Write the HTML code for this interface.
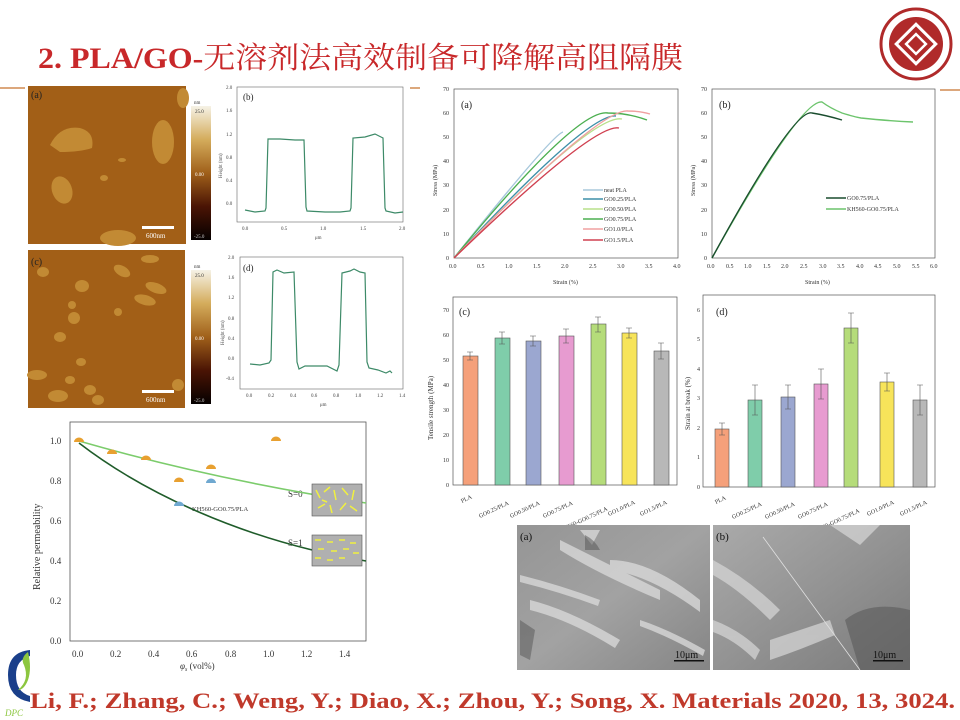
<!DOCTYPE html>
<html><head><meta charset="utf-8"><style>
html,body{margin:0;padding:0;background:#fff;}
svg{display:block;}
text{font-family:"Liberation Serif","Noto Serif CJK SC",serif;}
</style></head><body>
<svg width="960" height="720" viewBox="0 0 960 720" xmlns="http://www.w3.org/2000/svg">
<defs>
<linearGradient id="cb" x1="0" y1="0" x2="0" y2="1">
<stop offset="0" stop-color="#f6f2e6"/><stop offset="0.25" stop-color="#d4ac5c"/><stop offset="0.5" stop-color="#a0601a"/><stop offset="0.75" stop-color="#4a1404"/><stop offset="1" stop-color="#050000"/>
</linearGradient>
<linearGradient id="sem1" x1="0" y1="0" x2="1" y2="1">
<stop offset="0" stop-color="#959595"/><stop offset="0.5" stop-color="#a2a2a2"/><stop offset="1" stop-color="#858585"/>
</linearGradient>
<linearGradient id="sem2" x1="0" y1="0" x2="1" y2="1">
<stop offset="0" stop-color="#aaaaaa"/><stop offset="0.5" stop-color="#939393"/><stop offset="1" stop-color="#7a7a7a"/>
</linearGradient>
</defs>

<!-- header -->
<text x="38" y="68" font-size="30" fill="#c8282a" textLength="645" lengthAdjust="spacingAndGlyphs"><tspan font-weight="bold">2. PLA/GO-</tspan>无溶剂法高效制备可降解高阻隔膜</text>
<line x1="0" y1="88" x2="25" y2="88" stroke="#d08a50" stroke-width="1.5"/>
<line x1="410" y1="88" x2="420" y2="88" stroke="#d08a50" stroke-width="1.5"/>
<line x1="940" y1="90" x2="960" y2="90" stroke="#d08a50" stroke-width="1.5"/>
<!-- logo -->
<circle cx="916" cy="44" r="35" fill="#fff" stroke="#b02a2a" stroke-width="3"/>
<circle cx="916" cy="44" r="27" fill="#b02a2a"/>
<rect x="902" y="30" width="28" height="28" transform="rotate(45 916 44)" fill="none" stroke="#fff" stroke-width="3"/>
<rect x="909" y="37" width="14" height="14" transform="rotate(45 916 44)" fill="none" stroke="#fff" stroke-width="2.5"/>

<!-- AFM a -->
<rect x="28" y="86" width="158" height="158" fill="#a25f17"/>
<g fill="#c28a34">
<path d="M50,145 Q60,125 80,128 Q95,132 92,148 Q80,152 60,152 Z"/>
<ellipse cx="163" cy="142" rx="11" ry="22"/>
<ellipse cx="62" cy="190" rx="10" ry="14" transform="rotate(-20 62 190)"/>
<ellipse cx="104" cy="178" rx="4" ry="3"/>
<ellipse cx="122" cy="160" rx="4" ry="2"/>
<ellipse cx="118" cy="238" rx="18" ry="8"/>
<ellipse cx="183" cy="98" rx="6" ry="10"/>
</g>
<rect x="142" y="226" width="32" height="3" fill="#fff"/>
<text x="146" y="238" font-size="7" fill="#fff" font-family="Liberation Sans">600nm</text>
<text x="31" y="98" font-size="10" fill="#222">(a)</text>
<rect x="191" y="106" width="20" height="134" fill="url(#cb)"/>
<text x="194" y="104" font-size="5" fill="#333" font-family="Liberation Sans">nm</text>
<text x="195" y="113" font-size="5" fill="#333" font-family="Liberation Sans">25.0</text>
<text x="195" y="176" font-size="5" fill="#fff" font-family="Liberation Sans">0.00</text>
<text x="194" y="238" font-size="5" fill="#ccc" font-family="Liberation Sans">-25.0</text>

<!-- AFM c -->
<rect x="28" y="250" width="157" height="158" fill="#a25f17"/>
<g fill="#c28a34">
<ellipse cx="43" cy="272" rx="6" ry="5"/><ellipse cx="82" cy="286" rx="7" ry="6"/><ellipse cx="122" cy="271" rx="9" ry="5" transform="rotate(30 122 271)"/>
<ellipse cx="150" cy="259" rx="9" ry="4"/><ellipse cx="156" cy="288" rx="11" ry="5" transform="rotate(20 156 288)"/><ellipse cx="145" cy="300" rx="11" ry="5" transform="rotate(15 145 300)"/>
<ellipse cx="72" cy="305" rx="4" ry="4"/><ellipse cx="74" cy="318" rx="6" ry="6"/><ellipse cx="118" cy="312" rx="4" ry="4"/>
<ellipse cx="60" cy="337" rx="6" ry="5"/><ellipse cx="81" cy="362" rx="5" ry="4"/><ellipse cx="37" cy="375" rx="10" ry="5"/>
<ellipse cx="70" cy="380" rx="5" ry="4"/><ellipse cx="90" cy="390" rx="6" ry="5"/><ellipse cx="58" cy="396" rx="10" ry="6"/>
<ellipse cx="98" cy="400" rx="6" ry="5"/><ellipse cx="178" cy="385" rx="6" ry="6"/>
</g>
<rect x="142" y="390" width="32" height="3" fill="#fff"/>
<text x="146" y="402" font-size="7" fill="#fff" font-family="Liberation Sans">600nm</text>
<text x="31" y="265" font-size="10" fill="#222">(c)</text>
<rect x="191" y="270" width="20" height="134" fill="url(#cb)"/>
<text x="194" y="268" font-size="5" fill="#333" font-family="Liberation Sans">nm</text>
<text x="195" y="277" font-size="5" fill="#333" font-family="Liberation Sans">25.0</text>
<text x="195" y="340" font-size="5" fill="#fff" font-family="Liberation Sans">0.00</text>
<text x="194" y="402" font-size="5" fill="#ccc" font-family="Liberation Sans">-25.0</text>

<!-- profile b -->
<g font-size="5" fill="#444" font-family="Liberation Serif">
<rect x="237" y="87" width="166" height="135" fill="none" stroke="#666" stroke-width="0.6"/>
<text x="226" y="89">2.0</text><text x="226" y="112">1.6</text><text x="226" y="136">1.2</text><text x="226" y="159">0.8</text><text x="226" y="182">0.4</text><text x="226" y="205">0.0</text>
<text x="242" y="230">0.0</text><text x="281" y="230">0.5</text><text x="320" y="230">1.0</text><text x="360" y="230">1.5</text><text x="399" y="230">2.0</text>
<text x="315" y="239">μm</text>
<text x="222" y="178" transform="rotate(-90 222 178)">Height (nm)</text>
<text x="243" y="100" font-size="9" fill="#222">(b)</text>
</g>
<path d="M245,210 L255,212 L265,211 L266,208 L268,139 L280,139 L295,140 L304,140 L306,207 L307,211 L325,212 L340,212 L350,211 L351,208 L353,138 L365,137 L375,134 L383,138 L385,208 L386,211 L395,213 L403,212" fill="none" stroke="#3d8a68" stroke-width="1.2"/>

<!-- profile d -->
<g font-size="5" fill="#444" font-family="Liberation Serif">
<rect x="240" y="257" width="163" height="132" fill="none" stroke="#666" stroke-width="0.6"/>
<text x="228" y="259">2.0</text><text x="228" y="279">1.6</text><text x="228" y="299">1.2</text><text x="228" y="320">0.8</text><text x="228" y="340">0.4</text><text x="228" y="360">0.0</text><text x="226" y="380">-0.4</text>
<text x="246" y="397">0.0</text><text x="268" y="397">0.2</text><text x="290" y="397">0.4</text><text x="311" y="397">0.6</text><text x="333" y="397">0.8</text><text x="355" y="397">1.0</text><text x="377" y="397">1.2</text><text x="399" y="397">1.4</text>
<text x="320" y="406">μm</text>
<text x="224" y="345" transform="rotate(-90 224 345)">Height (nm)</text>
<text x="243" y="271" font-size="9" fill="#222">(d)</text>
</g>
<path d="M250,364 L260,365 L269,363 L271,360 L273,272 L277,270 L284,273 L294,272 L297,362 L299,369 L305,366 L320,366 L327,366 L337,371 L339,365 L342,273 L350,271 L354,269 L360,272 L365,273 L367,362 L369,368 L378,370 L386,373 L390,371 L392,373" fill="none" stroke="#3d8a68" stroke-width="1.2"/>

<!-- stress a -->
<g font-size="6" fill="#333">
<rect x="454" y="89" width="224" height="169" fill="none" stroke="#555" stroke-width="0.7"/>
<text x="446" y="260">0</text><text x="443" y="236">10</text><text x="443" y="212">20</text><text x="443" y="187">30</text><text x="443" y="163">40</text><text x="443" y="139">50</text><text x="443" y="115">60</text><text x="443" y="91">70</text>
<text x="449" y="268">0.0</text><text x="477" y="268">0.5</text><text x="505" y="268">1.0</text><text x="533" y="268">1.5</text><text x="561" y="268">2.0</text><text x="589" y="268">2.5</text><text x="617" y="268">3.0</text><text x="645" y="268">3.5</text><text x="673" y="268">4.0</text>
<text x="553" y="284">Strain (%)</text>
<text x="437" y="196" transform="rotate(-90 437 196)">Stress (MPa)</text>
<text x="461" y="108" font-size="10" fill="#222">(a)</text>
</g>
<g fill="none" stroke-width="1.4">
<path d="M454,258 Q552,135 563,132" stroke="#a8c8dc"/>
<path d="M454,258 Q588,113 616,116" stroke="#3d8fa8"/>
<path d="M454,258 Q594,113 622,119" stroke="#b8e08a"/>
<path d="M454,258 Q577,108 608,113 Q628,113 647,120" stroke="#4caf50"/>
<path d="M454,258 Q600,108 628,111 Q640,111 650,114" stroke="#f0a0a0"/>
<path d="M454,258 Q594,123 619,128" stroke="#d04050"/>
</g>
<g font-size="6" fill="#333">
<line x1="583" y1="190" x2="603" y2="190" stroke="#a8c8dc" stroke-width="1.4"/><text x="604" y="192">neat PLA</text>
<line x1="583" y1="199" x2="603" y2="199" stroke="#3d8fa8" stroke-width="1.4"/><text x="604" y="201">GO0.25/PLA</text>
<line x1="583" y1="209" x2="603" y2="209" stroke="#b8e08a" stroke-width="1.4"/><text x="604" y="211">GO0.50/PLA</text>
<line x1="583" y1="219" x2="603" y2="219" stroke="#4caf50" stroke-width="1.4"/><text x="604" y="221">GO0.75/PLA</text>
<line x1="583" y1="229" x2="603" y2="229" stroke="#f0a0a0" stroke-width="1.4"/><text x="604" y="231">GO1.0/PLA</text>
<line x1="583" y1="240" x2="603" y2="240" stroke="#d04050" stroke-width="1.4"/><text x="604" y="242">GO1.5/PLA</text>
</g>

<!-- stress b -->
<g font-size="6" fill="#333">
<rect x="712" y="89" width="223" height="169" fill="none" stroke="#555" stroke-width="0.7"/>
<text x="704" y="260">0</text><text x="701" y="236">10</text><text x="701" y="212">20</text><text x="701" y="187">30</text><text x="701" y="163">40</text><text x="701" y="139">50</text><text x="701" y="115">60</text><text x="701" y="91">70</text>
<text x="707" y="268">0.0</text><text x="726" y="268">0.5</text><text x="744" y="268">1.0</text><text x="763" y="268">1.5</text><text x="781" y="268">2.0</text><text x="800" y="268">2.5</text><text x="819" y="268">3.0</text><text x="837" y="268">3.5</text><text x="856" y="268">4.0</text><text x="874" y="268">4.5</text><text x="893" y="268">5.0</text><text x="912" y="268">5.5</text><text x="930" y="268">6.0</text>
<text x="805" y="284">Strain (%)</text>
<text x="695" y="196" transform="rotate(-90 695 196)">Stress (MPa)</text>
<text x="719" y="108" font-size="10" fill="#222">(b)</text>
<line x1="826" y1="198" x2="846" y2="198" stroke="#1a4d2e" stroke-width="1.4"/><text x="847" y="200">GO0.75/PLA</text>
<line x1="826" y1="209" x2="846" y2="209" stroke="#6cc46c" stroke-width="1.4"/><text x="847" y="211">KH560-GO0.75/PLA</text>
</g>
<g fill="none" stroke-width="1.4">
<path d="M712,258 Q801,99 822,102 Q830,108 842,113 Q855,117 861,118 Q890,121 913,122" stroke="#6cc46c"/>
<path d="M712,258 Q794,108 812,113 Q825,115 842,120" stroke="#1a4d2e"/>
</g>

<!-- bar c -->
<g font-size="6" fill="#333">
<rect x="453" y="297" width="224" height="188" fill="none" stroke="#555" stroke-width="0.7"/>
<text x="446" y="487">0</text><text x="443" y="462">10</text><text x="443" y="437">20</text><text x="443" y="412">30</text><text x="443" y="387">40</text><text x="443" y="362">50</text><text x="443" y="337">60</text><text x="443" y="312">70</text>
<text x="433" y="440" transform="rotate(-90 433 440)" font-size="7">Tensile strength (MPa)</text>
<text x="459" y="315" font-size="10" fill="#222">(c)</text>
</g>
<g stroke="#555" stroke-width="0.6">
<rect x="463" y="356" width="15" height="129" fill="#f5a07a"/>
<rect x="495" y="338" width="15" height="147" fill="#7fcdaa"/>
<rect x="526" y="341" width="15" height="144" fill="#9ba7d0"/>
<rect x="559" y="336" width="15" height="149" fill="#e79bd0"/>
<rect x="591" y="324" width="15" height="161" fill="#b5dc7a"/>
<rect x="622" y="333" width="15" height="152" fill="#f7e45a"/>
<rect x="654" y="351" width="15" height="134" fill="#b8b8b8"/>
<path d="M470,352V360M467,352H473M467,360H473 M502,332V344M499,332H505M499,344H505 M533,336V346M530,336H536M530,346H536 M566,329V343M563,329H569M563,343H569 M598,317V332M595,317H601M595,332H601 M629,328V338M626,328H632M626,338H632 M661,343V359M658,343H664M658,359H664" fill="none"/>
</g>
<g font-size="6" fill="#333">
<text transform="translate(462,503) rotate(-25)">PLA</text>
<text transform="translate(480,518) rotate(-25)">GO0.25/PLA</text>
<text transform="translate(511,518) rotate(-25)">GO0.50/PLA</text>
<text transform="translate(544,518) rotate(-25)">GO0.75/PLA</text>
<text transform="translate(561,532) rotate(-25)">KH560-GO0.75/PLA</text>
<text transform="translate(609,516) rotate(-25)">GO1.0/PLA</text>
<text transform="translate(641,516) rotate(-25)">GO1.5/PLA</text>
</g>

<!-- bar d -->
<g font-size="6" fill="#333">
<rect x="703" y="295" width="232" height="192" fill="none" stroke="#555" stroke-width="0.7"/>
<text x="697" y="489">0</text><text x="697" y="459">1</text><text x="697" y="430">2</text><text x="697" y="400">3</text><text x="697" y="371">4</text><text x="697" y="341">5</text><text x="697" y="312">6</text>
<text x="690" y="430" transform="rotate(-90 690 430)" font-size="7">Strain at break (%)</text>
<text x="716" y="315" font-size="10" fill="#222">(d)</text>
</g>
<g stroke="#555" stroke-width="0.6">
<rect x="715" y="429" width="14" height="58" fill="#f5a07a"/>
<rect x="748" y="400" width="14" height="87" fill="#7fcdaa"/>
<rect x="781" y="397" width="14" height="90" fill="#9ba7d0"/>
<rect x="814" y="384" width="14" height="103" fill="#e79bd0"/>
<rect x="844" y="328" width="14" height="159" fill="#b5dc7a"/>
<rect x="880" y="382" width="14" height="105" fill="#f7e45a"/>
<rect x="913" y="400" width="14" height="87" fill="#b8b8b8"/>
<path d="M722,423V435M719,423H725M719,435H725 M755,385V415M752,385H758M752,415H758 M788,385V409M785,385H791M785,409H791 M821,369V399M818,369H824M818,399H824 M851,313V343M848,313H854M848,343H854 M887,373V391M884,373H890M884,391H890 M920,385V415M917,385H923M917,415H923" fill="none"/>
</g>
<g font-size="6" fill="#333">
<text transform="translate(716,504) rotate(-25)">PLA</text>
<text transform="translate(733,519) rotate(-25)">GO0.25/PLA</text>
<text transform="translate(766,519) rotate(-25)">GO0.50/PLA</text>
<text transform="translate(799,519) rotate(-25)">GO0.75/PLA</text>
<text transform="translate(813,534) rotate(-25)">KH560-GO0.75/PLA</text>
<text transform="translate(868,516) rotate(-25)">GO1.0/PLA</text>
<text transform="translate(901,516) rotate(-25)">GO1.5/PLA</text>
</g>

<!-- SEM -->
<rect x="517" y="525" width="193" height="145" fill="url(#sem1)"/>
<g fill="#dcdcdc" opacity="0.75">
<path d="M560,540 Q600,560 660,590 L660,600 Q600,575 560,550 Z"/>
<path d="M530,600 Q570,610 620,640 L615,648 Q570,620 530,610 Z"/>
<path d="M610,560 Q650,560 700,600 L700,612 Q650,575 610,570 Z"/>
<path d="M520,575 Q560,585 600,600 L598,606 Q560,592 520,582 Z"/>
<path d="M640,620 Q670,630 705,650 L703,656 Q670,637 640,626 Z"/>
<path d="M580,530 L600,530 L592,545 Z"/>
</g>
<g fill="#555" opacity="0.5"><path d="M520,620 L535,630 L530,660 L520,655 Z"/><path d="M585,535 Q595,540 600,550 L585,550 Z"/></g>
<text x="520" y="540" font-size="11" fill="#111">(a)</text>
<rect x="674" y="660" width="30" height="1.5" fill="#111"/>
<text x="675" y="658" font-size="10" fill="#111">10μm</text>

<rect x="713" y="525" width="197" height="145" fill="url(#sem2)"/>
<g fill="#d8d8d8" opacity="0.7">
<path d="M713,560 Q750,580 780,610 L770,620 Q740,590 713,575 Z"/>
<path d="M770,640 Q800,630 830,620 L835,635 Q800,650 770,660 Z"/>
<path d="M830,525 L880,525 L860,545 Z"/>
<path d="M713,620 Q740,630 760,650 L755,660 Q735,640 713,632 Z"/>
</g>
<g fill="#5a5a5a" opacity="0.6"><path d="M845,620 Q870,600 910,610 L910,670 L860,670 Z"/></g>
<line x1="763" y1="537" x2="860" y2="670" stroke="#e0e0e0" stroke-width="0.8"/>
<text x="716" y="540" font-size="11" fill="#111">(b)</text>
<rect x="873" y="660" width="30" height="1.5" fill="#111"/>
<text x="873" y="658" font-size="10" fill="#111">10μm</text>

<!-- permeability -->
<g font-size="9" fill="#333">
<rect x="70" y="422" width="296" height="219" fill="none" stroke="#555" stroke-width="0.8"/>
<text x="50" y="644">0.0</text><text x="50" y="604">0.2</text><text x="50" y="564">0.4</text><text x="50" y="524">0.6</text><text x="50" y="484">0.8</text><text x="50" y="444">1.0</text>
<text x="72" y="657">0.0</text><text x="110" y="657">0.2</text><text x="148" y="657">0.4</text><text x="186" y="657">0.6</text><text x="225" y="657">0.8</text><text x="263" y="657">1.0</text><text x="301" y="657">1.2</text><text x="339" y="657">1.4</text>
<text x="180" y="669" font-style="italic">φ<tspan font-size="6" dy="2">s</tspan><tspan dy="-2" font-style="normal"> (vol%)</tspan></text>
<text x="40" y="590" transform="rotate(-90 40 590)" font-size="10">Relative permeability</text>
<text x="192" y="511" font-size="6.5">KH560-GO0.75/PLA</text>
<text x="288" y="497" font-size="9">S=0</text>
<text x="288" y="546" font-size="9">S=1</text>
</g>
<path d="M79,441 C180,470 280,490 366,503" fill="none" stroke="#7ccc6c" stroke-width="1.6"/>
<path d="M79,443 C140,490 240,540 366,561" fill="none" stroke="#1f5c2a" stroke-width="1.6"/>
<g fill="#e8a030">
<path d="M74,442 a5,4.5 0 0 1 10,0 Z"/><path d="M107,454 a5,4.5 0 0 1 10,0 Z"/><path d="M141,460 a5,4.5 0 0 1 10,0 Z"/>
<path d="M174,482 a5,4.5 0 0 1 10,0 Z"/><path d="M206,469 a5,4.5 0 0 1 10,0 Z"/><path d="M271,441 a5,4.5 0 0 1 10,0 Z"/>
</g>
<g fill="#6fa8d0"><path d="M174,506 a5,4.5 0 0 1 10,0 Z"/><path d="M206,483 a5,4.5 0 0 1 10,0 Z"/></g>
<rect x="312" y="484" width="50" height="32" fill="#b0b0b0" stroke="#555" stroke-width="0.6"/>
<g stroke="#f0f040" stroke-width="1.5">
<line x1="316" y1="490" x2="320" y2="498"/><line x1="324" y1="492" x2="330" y2="487"/><line x1="334" y1="490" x2="336" y2="500"/><line x1="342" y1="488" x2="348" y2="495"/><line x1="354" y1="490" x2="352" y2="500"/>
<line x1="318" y1="508" x2="325" y2="504"/><line x1="330" y1="505" x2="332" y2="513"/><line x1="340" y1="510" x2="346" y2="503"/><line x1="350" y1="506" x2="357" y2="511"/><line x1="322" y1="500" x2="327" y2="502"/>
</g>
<rect x="312" y="535" width="50" height="31" fill="#b0b0b0" stroke="#555" stroke-width="0.6"/>
<g stroke="#f0f040" stroke-width="1.5">
<line x1="315" y1="540" x2="321" y2="540"/><line x1="327" y1="542" x2="333" y2="542"/><line x1="339" y1="540" x2="345" y2="540"/><line x1="350" y1="543" x2="356" y2="543"/>
<line x1="318" y1="549" x2="324" y2="549"/><line x1="331" y1="551" x2="337" y2="551"/><line x1="343" y1="549" x2="349" y2="549"/><line x1="353" y1="553" x2="359" y2="553"/>
<line x1="315" y1="558" x2="321" y2="558"/><line x1="327" y1="560" x2="333" y2="560"/><line x1="339" y1="558" x2="345" y2="558"/>
</g>

<!-- DPC logo -->
<path d="M30,650 Q8,652 8,675 Q8,698 30,702 L30,696 Q16,692 16,675 Q16,660 30,656 Z" fill="#1a3f8a"/>
<path d="M18,690 Q30,680 24,665 Q20,658 28,652 Q32,668 28,680 Q24,690 18,690 Z" fill="#8cc63f"/>
<text x="5" y="716" font-size="9" font-style="italic" fill="#8cc63f">DPC</text>

<!-- footer -->
<text x="30" y="708" font-size="22" font-weight="bold" fill="#c0392b" textLength="925" lengthAdjust="spacingAndGlyphs">Li, F.; Zhang, C.; Weng, Y.; Diao, X.; Zhou, Y.; Song, X. Materials 2020, 13, 3024.</text>
</svg>
</body></html>
